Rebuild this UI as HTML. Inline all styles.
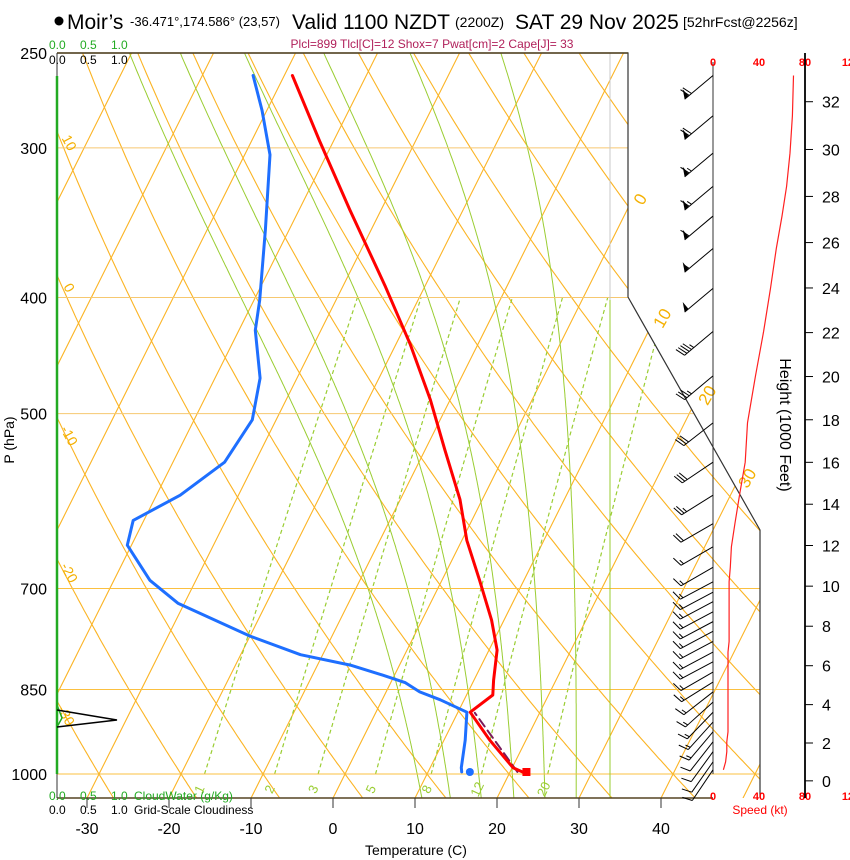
<!DOCTYPE html>
<html><head><meta charset="utf-8"><style>
html,body{margin:0;padding:0;background:#fff;}
svg{display:block;font-family:"Liberation Sans",Arial,sans-serif;}
</style></head><body>
<svg id="chart" width="850" height="860" viewBox="0 0 850 860" xmlns="http://www.w3.org/2000/svg">
<defs><clipPath id="plotclip"><polygon points="57,53 628,53 628,297 760,530 760,798 57,798"/></clipPath></defs>
<g>
<circle cx="59" cy="21" r="4.5" fill="#000"/>
<text x="67" y="29" font-size="21">Moir’s</text>
<text x="130" y="26" font-size="13">-36.471°,174.586° (23,57)</text>
<text x="292" y="29" font-size="21">Valid 1100 NZDT</text>
<text x="455" y="27" font-size="14">(2200Z)</text>
<text x="515" y="29" font-size="21">SAT 29 Nov 2025</text>
<text x="683" y="27" font-size="14">[52hrFcst@2256z]</text>
</g>
<text x="432" y="48" font-size="12" fill="#b0205a" text-anchor="middle">Plcl=899 Tlcl[C]=12 Shox=7 Pwat[cm]=2 Cape[J]= 33</text>
<g id="bg" clip-path="url(#plotclip)"></g>
<g id="fg"></g>
</svg>
<script>
// ---- data ----
const isobars = [250,300,400,500,700,850,1000];
const tempTicks = [-30,-20,-10,0,10,20,30,40];
const mixRatios = [1,2,3,5,8,12,20];
const moistStarts = [8.8,12.4,16.3,20.4,24.3,28.2];
const tempP = [261,296,338,391,438,487,536,590,638,689,744,788,835,859,888,937,988,996];
const tempC = [-49.0,-41.7,-33.8,-24.9,-18.2,-12.4,-7.6,-2.7,0.6,4.6,8.5,11.0,12.4,13.2,11.5,15.6,20.1,21.5];
const dewP = [261,279,304,351,402,426,467,506,549,585,614,644,689,720,767,795,811,827,839,854,867,888,937,988,996];
const dewC = [-53.8,-50.6,-46.9,-42.9,-39.3,-38.0,-34.5,-32.9,-33.7,-37.1,-41.3,-40.5,-35.6,-30.8,-20.0,-12.7,-6.0,-1.4,1.8,4.1,7.1,11.1,12.6,13.8,14.1];
const parcelP = [996,889];
const parcelC = [20.9,12.1];
const barbP = [261,282,303,323,342,364,393,427,465,509,549,585,618,646,672,691,705,718,732,746,760,775,791,806,822,838,854,871,888,905,922,940,958,977,992];
const barbSpd = [70,69,67,64,60,55,50,44,37,30,28,23,19,16,15,14,14,14,14,14,14,14,13,13,13,13,13,13,13,13,13,12,12,11,9];
const barbDir = [230,230,230,230,230,230,230,230,230,232,236,238,240,240,240,242,242,242,242,242,242,242,242,242,240,238,232,228,224,222,220,218,216,215,214];
const heightTicks = [0,2,4,6,8,10,12,14,16,18,20,22,24,26,28,30,32];
const speedTicks = [0,40,80,120];
const cloudScale = ["0.0","0.5","1.0"];

// ---- axes ----
const yP = p => 774 - 520*Math.log(1000/p);
const xT = (T,p) => 333 + 8.2*T + 0.5*(798 - yP(p));
const xS = s => 713 + 1.15*s;
const NS="http://www.w3.org/2000/svg";
const bg=document.getElementById('bg'), fg=document.getElementById('fg');
function mk(tag,attrs,parent){const e=document.createElementNS(NS,tag);for(const k in attrs)e.setAttribute(k,attrs[k]);(parent||fg).appendChild(e);return e;}
function txt(x,y,s,attrs,parent){const e=mk('text',Object.assign({x:x,y:y},attrs),parent);e.textContent=s;return e;}
const pr=[];for(let p=240;p<=1060;p+=5)pr.push(p);
function es(tc){return 6.112*Math.exp(17.67*tc/(tc+243.5));}
function tdFromE(e){const l=Math.log(e/6.112);return 243.5*l/(17.67-l);}

// isotherms
for(let T=-130;T<=60;T+=10){
  const pts=[1060,240].map(p=>xT(T,p).toFixed(1)+','+yP(p).toFixed(1)).join(' ');
  const e=mk('polyline',{points:pts,fill:'none',stroke:'#fbb424','stroke-width':1.1},bg);
  
  
}
// dry adiabats
for(let th=-40;th<=160;th+=10){
  const pts=pr.map(p=>{const T=(th+273.15)*Math.pow(p/1000,0.286)-273.15;return xT(T,p).toFixed(1)+','+yP(p).toFixed(1);}).join(' ');
  const e=mk('polyline',{points:pts,fill:'none',stroke:'#fbb424','stroke-width':1.1},bg);
  
  
}
// moist adiabats
function slope(T,p){const tc=T-273.15;const e=es(tc);const rs=0.622*e/(p-e);return ((287*T+2.5e6*rs)/(1005+2.5e6*2.5e6*rs*0.622/(287*T*T)))/p;}
moistStarts.forEach(t0=>{
  let T=t0+273.15, p=1000; const ptsD=[[xT(t0,1000),yP(1000)]];
  let pts2=[];
  {let Td=T,pd=1000;for(let i=0;i<20;i++){const dp=2.5;Td+=slope(Td,pd)*dp;pd+=dp;pts2.push([xT(Td-273.15,pd),yP(pd)]);}}
  while(p>245){const dp=-2;T+=slope(T,p)*dp;p+=dp;ptsD.push([xT(T-273.15,p),yP(p)]);}
  const all=pts2.reverse().concat(ptsD);
  const e=mk('polyline',{points:all.map(a=>a[0].toFixed(1)+','+a[1].toFixed(1)).join(' '),fill:'none',stroke:'#9acd32','stroke-width':1},bg);
  
  
});
// mixing ratio lines
mixRatios.forEach(w=>{
  const pts=[];for(let p=1000;p>=400;p-=10){const e=w*p/(622+w);pts.push(xT(tdFromE(e),p).toFixed(1)+','+yP(p).toFixed(1));}
  const e=mk('polyline',{points:pts.join(' '),fill:'none',stroke:'#9acd32','stroke-width':1.2,'stroke-dasharray':'4,3'},bg);
  
  
  const pl=1030, ee=w*pl/(622+w);const lx=xT(tdFromE(ee),pl), ly=yP(pl);
  const t=txt(lx,ly+4,String(w),{'font-size':13,fill:'#9acd32','text-anchor':'middle',transform:`rotate(-65 ${lx} ${ly})`},fg);
  
  
});
// isobars
isobars.forEach(p=>{
  if(p===250)return;
  const e=mk('line',{x1:57,x2:760,y1:yP(p),y2:yP(p),stroke:(p>=700?'#fbc040':'#f6c870'),'stroke-width':1},bg);
  
  
});
mk('line',{x1:610,x2:610,y1:53,y2:300,stroke:'#c8c8c8','stroke-width':1},bg);
mk('line',{x1:610,x2:610,y1:300,y2:798,stroke:'#9acd32','stroke-width':1},bg);

// frame
let f=mk('polyline',{points:'57,53 628,53 628,297 760,530 760,798',fill:'none',stroke:'#333','stroke-width':1.2});


mk('line',{x1:57,x2:628,y1:53,y2:53,stroke:'#554422','stroke-width':1.5});
let ba=mk('line',{x1:57,x2:713,y1:798,y2:798,stroke:'#554422','stroke-width':1.5});


mk('line',{x1:57,x2:57,y1:53,y2:798,stroke:'#333','stroke-width':1});

// isobar labels
isobars.forEach(p=>{const t=txt(47,yP(p)+6,String(p),{'font-size':16,'text-anchor':'end'});
  
  });
const yl=txt(14,440,'P (hPa)',{'font-size':14,'text-anchor':'middle',transform:'rotate(-90 14 440)'});


// temp ticks
tempTicks.forEach(T=>{const x=333+8.2*T;mk('line',{x1:x,x2:x,y1:798,y2:808,stroke:'#333'});
  const t=txt(x,834,String(T),{'font-size':16,'text-anchor':'middle'});
  
  });
const xl=txt(416,855,'Temperature (C)',{'font-size':14,'text-anchor':'middle'});



// orange labels
[[65,145,'10'],[65,290,'0'],[65,438,'-10'],[65,575,'-20'],[62,718,'-30']].forEach(a=>{
  const t=txt(a[0],a[1],a[2],{'font-size':14,fill:'#f4b000','text-anchor':'middle',transform:`rotate(62 ${a[0]} ${a[1]})`});
  
  });
[[640,205,'0'],[662,324,'10'],[707,401,'20'],[747,484,'30']].forEach(a=>{
  const t=txt(a[0],a[1],a[2],{'font-size':17,fill:'#f4b000','text-anchor':'middle',transform:`rotate(-60 ${a[0]} ${a[1]-6})`});
  
  });

// cloud panel
let cw=mk('line',{x1:57,x2:57,y1:76,y2:774,stroke:'#22aa22','stroke-width':2.5});


mk('polyline',{points:'57,705 62,718 57,727',fill:'none',stroke:'#22aa22','stroke-width':1.5});
let cl=mk('polyline',{points:'57,710 117,720 57,727',fill:'none',stroke:'#000','stroke-width':1.5});


cloudScale.forEach((s,i)=>{txt(49+i*31,49,s,{'font-size':12,fill:'#22aa22'});txt(49+i*31,64,s,{'font-size':12});
  txt(49+i*31,800,s,{'font-size':12,fill:'#22aa22'});txt(49+i*31,814,s,{'font-size':12});});
txt(134,800,'CloudWater (g/Kg)',{'font-size':12,fill:'#22aa22'});
txt(134,814,'Grid-Scale Cloudiness',{'font-size':12});

// profiles
function line(P,C,attrs,name){const pts=P.map((p,i)=>xT(C[i],p).toFixed(1)+','+yP(p).toFixed(1)).join(' ');
  const e=mk('polyline',Object.assign({points:pts,fill:'none','stroke-linejoin':'round','stroke-linecap':'round'},attrs));
  
  }
line(parcelP,parcelC,{stroke:'#7a1a5a','stroke-width':2,'stroke-dasharray':'9,5'},'parcel-path');
line(dewP,dewC,{stroke:'#1e6fff','stroke-width':3},'dewpoint-profile');
line(tempP,tempC,{stroke:'#ff0000','stroke-width':3},'temperature-profile');
let dd=mk('circle',{cx:xT(15.1,996),cy:772,r:4,fill:'#1e6fff'});


let td=mk('rect',{x:xT(22,996)-4,y:768,width:8,height:8,fill:'#ff0000'});



// wind panel
mk('line',{x1:713,x2:713,y1:62,y2:774,stroke:'#333','stroke-width':1});
barbP.forEach((p,i)=>{
  const y=yP(p),d=barbDir[i]*Math.PI/180,ux=Math.sin(d),uy=-Math.cos(d);
  const L=37,ex=713+ux*L,ey=y+uy*L,px=-uy,py=ux;
  const g=mk('g',{});
  
  
  mk('line',{x1:713,y1:y,x2:ex,y2:ey,stroke:'#000','stroke-width':1},g);
  let s=Math.round(barbSpd[i]/5)*5,pos=0;
  while(s>=50){const ax=ex-ux*pos,ay=ey-uy*pos;mk('polygon',{points:`${ax},${ay} ${ax-ux*5+px*9},${ay-uy*5+py*9} ${ax-ux*5},${ay-uy*5}`,fill:'#000'},g);pos+=6;s-=50;}
  while(s>=10){const ax=ex-ux*pos,ay=ey-uy*pos;mk('line',{x1:ax,y1:ay,x2:ax+px*10+ux*3,y2:ay+py*10+uy*3,stroke:'#000','stroke-width':1},g);pos+=3;s-=10;}
  if(s>=5){const ax=ex-ux*pos,ay=ey-uy*pos;mk('line',{x1:ax,y1:ay,x2:ax+px*5+ux*1.5,y2:ay+py*5+uy*1.5,stroke:'#000','stroke-width':1},g);}
});
let sp=mk('polyline',{points:barbP.map((p,i)=>xS(barbSpd[i]).toFixed(1)+','+yP(p).toFixed(1)).join(' '),fill:'none',stroke:'#ff2020','stroke-width':1.2});


speedTicks.forEach(s=>{txt(xS(s),66,String(s),{'font-size':11,'font-weight':'bold',fill:'#f00','text-anchor':'middle'});
  txt(xS(s),800,String(s),{'font-size':11,'font-weight':'bold',fill:'#f00','text-anchor':'middle'});});
txt(760,814,'Speed (kt)',{'font-size':12,fill:'#f00','text-anchor':'middle'});

// height axis
let ha=mk('line',{x1:805,x2:805,y1:53,y2:798,stroke:'#000','stroke-width':1.8});


heightTicks.forEach(h=>{const p=1013.25*Math.pow(1-6.8756e-6*h*1000,5.2559);const y=yP(p);
  mk('line',{x1:805,x2:813,y1:y,y2:y,stroke:'#000'});
  const t=txt(822,y+6,String(h),{'font-size':16});
  
  });
const hl=txt(780,425,'Height (1000 Feet)',{'font-size':16,'text-anchor':'middle',transform:'rotate(90 780 425)'});


</script>
</body></html>
